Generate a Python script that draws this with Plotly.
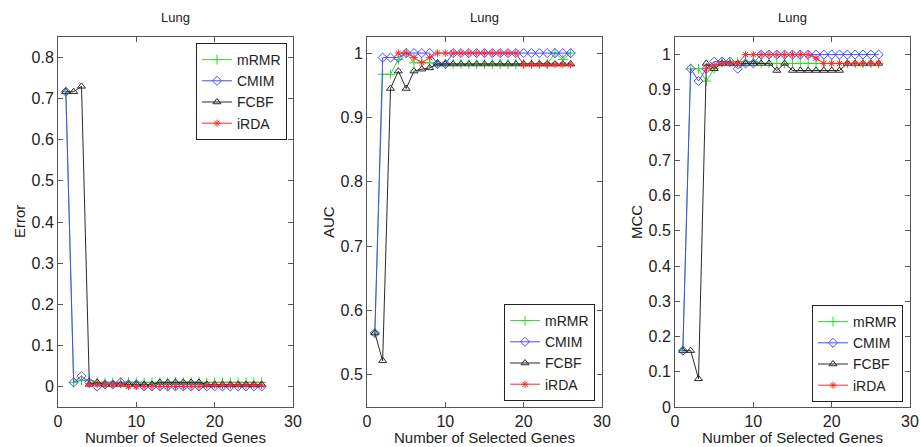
import plotly.graph_objects as go

# Number of selected genes (x axis) for each method
genes_all = list(range(1, 27))
genes_irda = list(range(4, 27))

# ---- Error ----
err_mrmr = [0.717, 0.010, 0.015, 0.015, 0.010, 0.010, 0.010, 0.010, 0.010, 0.010,
            0.010, 0.010, 0.010, 0.010, 0.010, 0.010, 0.010, 0.010, 0.010, 0.010,
            0.010, 0.010, 0.010, 0.010, 0.010, 0.010]
err_cmim = [0.717, 0.010, 0.025, 0.010, 0.000, 0.005, 0.005, 0.010, 0.005, 0.005,
            0.000, 0.000, 0.000, 0.000, 0.000, 0.000, 0.000, 0.000, 0.000, 0.000,
            0.000, 0.000, 0.000, 0.000, 0.000, 0.000]
err_fcbf = [0.717, 0.717, 0.730, 0.005, 0.010, 0.005, 0.005, 0.005, 0.005, 0.005,
            0.005, 0.005, 0.010, 0.010, 0.010, 0.010, 0.010, 0.010, 0.005, 0.005,
            0.005, 0.005, 0.005, 0.005, 0.005, 0.005]
err_irda = [0.005, 0.005, 0.005, 0.005, 0.005, 0.000, 0.000,
            0.000, 0.000, 0.000, 0.000, 0.000, 0.000, 0.000, 0.000, 0.003, 0.003,
            0.003, 0.003, 0.003, 0.003, 0.003, 0.003]

# ---- AUC ----
auc_mrmr = [0.565, 0.967, 0.967, 0.990, 1.000, 0.985, 0.985, 0.985, 0.983, 0.983,
            0.983, 0.983, 0.983, 0.983, 0.983, 0.983, 0.983, 0.983, 0.983, 0.983,
            0.983, 0.983, 0.983, 1.000, 0.990, 1.000]
auc_cmim = [0.565, 0.993, 0.993, 0.993, 1.000, 1.000, 1.000, 1.000, 0.983, 0.983,
            1.000, 1.000, 1.000, 1.000, 1.000, 1.000, 1.000, 1.000, 1.000, 1.000,
            1.000, 1.000, 1.000, 1.000, 1.000, 1.000]
auc_fcbf = [0.565, 0.522, 0.945, 0.972, 0.945, 0.972, 0.975, 0.977, 0.983, 0.983,
            0.983, 0.983, 0.983, 0.983, 0.983, 0.983, 0.983, 0.983, 0.983, 0.983,
            0.983, 0.983, 0.983, 0.983, 0.983, 0.983]
auc_irda = [1.000, 1.000, 0.993, 0.985, 0.993, 1.000, 1.000,
            1.000, 1.000, 1.000, 1.000, 1.000, 1.000, 1.000, 1.000, 1.000, 0.982,
            0.982, 0.982, 0.982, 0.982, 0.982, 0.982]

# ---- MCC ----
mcc_mrmr = [0.160, 0.960, 0.960, 0.925, 0.960, 0.980, 0.980, 0.980, 0.980, 0.980,
            0.975, 0.975, 0.975, 0.975, 0.975, 0.975, 0.975, 0.975, 0.975, 0.975,
            0.975, 0.975, 0.975, 0.975, 0.975, 0.975]
mcc_cmim = [0.160, 0.960, 0.925, 0.960, 0.980, 0.980, 0.980, 0.960, 0.975, 0.975,
            1.000, 1.000, 1.000, 1.000, 1.000, 1.000, 1.000, 1.000, 1.000, 1.000,
            1.000, 1.000, 1.000, 1.000, 1.000, 1.000]
mcc_fcbf = [0.160, 0.160, 0.080, 0.975, 0.960, 0.975, 0.975, 0.975, 0.975, 0.975,
            0.975, 0.975, 0.955, 0.975, 0.955, 0.955, 0.955, 0.955, 0.955, 0.955,
            0.955, 0.975, 0.975, 0.975, 0.975, 0.975]
mcc_irda = [0.960, 0.970, 0.975, 0.975, 0.975, 1.000, 1.000,
            1.000, 1.000, 1.000, 1.000, 1.000, 1.000, 1.000, 0.990, 0.975, 0.975,
            0.975, 0.975, 0.975, 0.975, 0.975, 0.975]

methods = ["mRMR", "CMIM", "FCBF", "iRDA"]
y_titles = ["Error", "AUC", "MCC"]
y_ranges = [[-0.05, 0.85], [0.45, 1.025], [0, 1.05]]
y_ticks = [[0, 0.1, 0.2, 0.3, 0.4, 0.5, 0.6, 0.7, 0.8],
           [0.5, 0.6, 0.7, 0.8, 0.9, 1],
           [0, 0.1, 0.2, 0.3, 0.4, 0.5, 0.6, 0.7, 0.8, 0.9, 1]]
x_ticks = [0, 10, 20, 30]

panel_data = [
    [err_mrmr, err_cmim, err_fcbf, err_irda],
    [auc_mrmr, auc_cmim, auc_fcbf, auc_irda],
    [mcc_mrmr, mcc_cmim, mcc_fcbf, mcc_irda],
]

styles = {
    "mRMR": dict(color="#33d633", symbol="cross-thin-open", size=7),
    "CMIM": dict(color="#4a4aff", symbol="diamond-open", size=7),
    "FCBF": dict(color="#2a2a2a", symbol="triangle-up-open", size=7),
    "iRDA": dict(color="#ff2a2a", symbol="asterisk-open", size=6),
}

W, H = 921, 447
# plot-area pixel boxes: (left, right, top, bottom)
boxes = [(58, 293, 37, 407), (367, 602, 37, 407), (675, 910, 37, 407)]
ylabel_x = [20, 329, 637]
legend_pos = [
    dict(x=287 / W, y=1 - 43 / H, xanchor="right", yanchor="top"),
    dict(x=595 / W, y=1 - 401 / H, xanchor="right", yanchor="bottom"),
    dict(x=903 / W, y=1 - 402 / H, xanchor="right", yanchor="bottom"),
]

FONT = "Liberation Sans, Arial, sans-serif"
TXT = "#222"
fig = go.Figure()
layout = dict(
    template="none",
    width=W, height=H,
    margin=dict(l=0, r=0, t=0, b=0, pad=0),
    paper_bgcolor="white", plot_bgcolor="white",
    font=dict(family=FONT, color=TXT),
    annotations=[],
)

for p in range(3):
    sfx = "" if p == 0 else str(p + 1)
    xa, ya = "x" + sfx, "y" + sfx
    leg = "legend" + sfx
    for m, name in enumerate(methods):
        st = styles[name]
        xs = genes_irda if name == "iRDA" else genes_all
        fig.add_trace(go.Scatter(
            x=xs, y=panel_data[p][m], name=name, mode="lines+markers",
            xaxis=xa, yaxis=ya, legend=leg,
            line=dict(color=st["color"], width=1),
            marker=dict(symbol=st["symbol"], size=st["size"], color=st["color"],
                        line=dict(color=st["color"], width=1)),
        ))
    l, r, t, b = boxes[p]
    axis_common = dict(
        showline=True, linecolor="#555", linewidth=1, mirror="ticks",
        ticks="inside", ticklen=5, tickcolor="#555", showgrid=False,
        zeroline=False, automargin=False,
        tickfont=dict(size=16, family=FONT, color=TXT),
    )
    layout["xaxis" + sfx] = dict(
        domain=[l / W, r / W], range=[0, 30], tickvals=x_ticks,
        anchor=ya, **axis_common)
    layout["yaxis" + sfx] = dict(
        domain=[1 - b / H, 1 - t / H], range=y_ranges[p], tickvals=y_ticks[p],
        ticktext=[("%g" % v) for v in y_ticks[p]],
        anchor=xa, **axis_common)
    layout[leg] = dict(
        **legend_pos[p], bgcolor="white", bordercolor=TXT, borderwidth=1,
        font=dict(size=14, family=FONT, color=TXT),
        itemwidth=30, tracegroupgap=0,
    )
    cx = (l + r) / 2 / W
    layout["annotations"] += [
        dict(text="Lung", x=cx, y=1 - 18 / H, xref="paper", yref="paper",
             xanchor="center", yanchor="middle", showarrow=False,
             font=dict(size=13, family=FONT, color=TXT)),
        dict(text="Number of Selected Genes", x=cx, y=1 - 437 / H,
             xref="paper", yref="paper", xanchor="center", yanchor="middle",
             showarrow=False, font=dict(size=15, family=FONT, color=TXT)),
        dict(text=y_titles[p], x=ylabel_x[p] / W, y=1 - 222 / H,
             xref="paper", yref="paper", xanchor="center", yanchor="middle",
             showarrow=False, textangle=-90,
             font=dict(size=15, family=FONT, color=TXT)),
    ]

fig.update_layout(**layout)
fig.write_html("out.html")
